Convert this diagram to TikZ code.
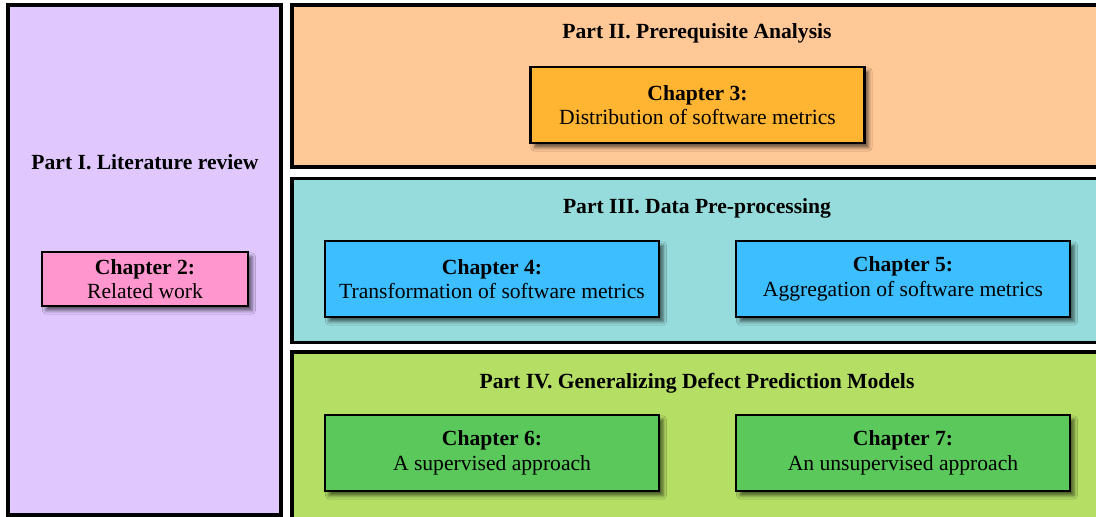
\documentclass[tikz,border=0pt]{standalone}
\usepackage{fontspec}
\setmainfont{Liberation Serif}
\usetikzlibrary{shadows.blur}

\definecolor{partone}{RGB}{224,200,255}
\definecolor{parttwo}{RGB}{255,200,150}
\definecolor{partthree}{RGB}{150,220,220}
\definecolor{partfour}{RGB}{180,222,100}
\definecolor{chpink}{RGB}{255,150,205}
\definecolor{chorange}{RGB}{255,180,50}
\definecolor{chblue}{RGB}{60,190,255}
\definecolor{chgreen}{RGB}{90,200,90}

\tikzset{
  partbox/.style={draw=black, line width=1.6pt, rectangle, inner sep=0pt},
  parttitle/.style={font=\fontsize{10.8}{12.3}\selectfont\bfseries, inner sep=0pt},
  chapbox/.style={draw=black, line width=1.15pt, rectangle, align=center,
    font=\fontsize{10.8}{12.3}\selectfont, inner xsep=2pt, inner ysep=3pt,
    blur shadow={shadow xshift=2pt, shadow yshift=-2.2pt,
      shadow blur radius=1.8pt, shadow opacity=60}},
  widechap/.style={chapbox, minimum width=167pt, minimum height=38pt},
}

\begin{document}
\begin{tikzpicture}[x=0.5pt, y=-0.5pt]
  \clip (0,0) rectangle (1096,516);

  % part frames
  \node[partbox, fill=partone, minimum width=136.5pt, minimum height=255pt]
    (p1) at (144.5,260) {};
  \node[partbox, fill=parttwo, minimum width=410pt, minimum height=81pt]
    (p2) at (702,86) {};
  \node[partbox, fill=partthree, minimum width=410pt, minimum height=82pt]
    (p3) at (702,260.5) {};
  \node[partbox, fill=partfour, minimum width=410pt, minimum height=90pt]
    (p4) at (702,442) {};

  % part titles
  \node[parttitle] (t1) at (145,162) {Part I. Literature review};
  \node[parttitle] (t2) at (697,33) {Part II. Prerequisite Analysis};
  \node[parttitle] (t3) at (697,208) {Part III. Data Pre-processing};
  \node[parttitle] (t4) at (697,383) {Part IV. Generalizing Defect Prediction Models};

  % chapters
  \node[chapbox, fill=chpink, minimum width=103pt, minimum height=27pt]
    (c2) at (145,279) {\textbf{Chapter 2:}\\Related work};
  \node[widechap, fill=chorange] (c3) at (697.5,105)
    {\textbf{Chapter 3:}\\Distribution of software metrics};
  \node[widechap, fill=chblue] (c4) at (492,279)
    {\textbf{Chapter 4:}\\Transformation of software metrics};
  \node[widechap, fill=chblue] (c5) at (903,279)
    {\textbf{Chapter 5:}\\Aggregation of software metrics};
  \node[widechap, fill=chgreen] (c6) at (492,453)
    {\textbf{Chapter 6:}\\A supervised approach};
  \node[widechap, fill=chgreen] (c7) at (903,453)
    {\textbf{Chapter 7:}\\An unsupervised approach};
\end{tikzpicture}
\end{document}
